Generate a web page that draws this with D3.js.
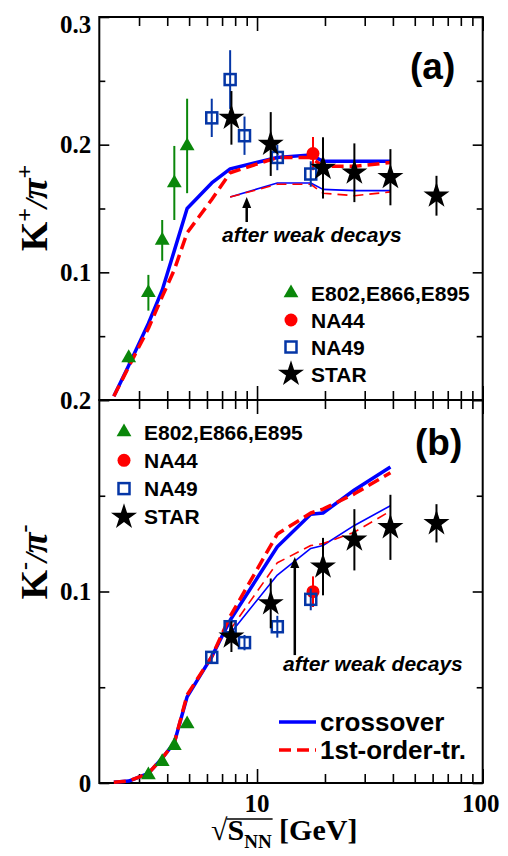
<!DOCTYPE html>
<html>
<head>
<meta charset="UTF-8">
<title>K/pi ratio</title>
<script src="https://cdn.jsdelivr.net/npm/d3@7"></script>
<style>
  body { margin: 0; background: #fff; }
  .serif { font-family: "Liberation Serif", "DejaVu Serif", serif; font-weight: bold; }
  .sans { font-family: "Liberation Sans", Arial, sans-serif; font-weight: bold; }
</style>
</head>
<body>
<svg id="chart" width="508" height="856" xmlns="http://www.w3.org/2000/svg"></svg>
<script>
// ---- data (sqrt(s_NN) in GeV) ----
const agsE = [2.7, 3.3, 3.8, 4.3, 4.9];
const agsKp = [0.033, 0.084, 0.125, 0.170, 0.199];
const agsKpErr = [0.004, 0.014, 0.016, 0.029, 0.037];
const agsKmE = [3.3, 3.8, 4.3, 4.9];
const agsKm = [0.0042, 0.0111, 0.0195, 0.0308];

const na44E = [17.7];
const na44Kp = [0.193];
const na44KpErr = [0.013];
const na44Km = [0.0999];
const na44KmErr = [0.008];

const na49E = [6.3, 7.6, 8.8, 12.3, 17.3];
const na49Kp = [0.221, 0.251, 0.207, 0.190, 0.177];
const na49KpErr = [0.015, 0.023, 0.015, 0.010, 0.010];
const na49Km = [0.0656, 0.0816, 0.0733, 0.0816, 0.0959];
const na49KmErr = [0.003, 0.004, 0.004, 0.0057, 0.0057];

const starE = [7.7, 11.5, 19.6, 27, 39, 62.4];
const starKp = [0.221, 0.2005, 0.1818, 0.178, 0.1745, 0.160];
const starKpErr = [0.021, 0.025, 0.024, 0.023, 0.022, 0.0156];
const starKm = [0.0764, 0.0938, 0.113, 0.127, 0.1335, 0.1356];
const starKmErr = [0.008, 0.013, 0.015, 0.016, 0.017, 0.010];

// model curves
const modelE = [2.32, 2.7, 3.3, 3.8, 4.3, 4.9, 6.3, 7.6, 12.3, 17.3, 19.6, 27, 39];
const crossKp = [0.003, 0.027, 0.060, 0.086, 0.117, 0.150, 0.170, 0.181, 0.190, 0.192, 0.187, 0.187, 0.187];
const firstKp = [0.003, 0.026, 0.056, 0.081, 0.102, 0.131, 0.157, 0.178, 0.190, 0.190, 0.183, 0.183, 0.186];
const crossKm = [0.0004, 0.001, 0.005, 0.013, 0.021, 0.045, 0.066, 0.085, 0.1234, 0.1403, 0.141, 0.153, 0.165];
const firstKm = [0.0004, 0.001, 0.005, 0.013, 0.021, 0.046, 0.066, 0.087, 0.130, 0.141, 0.143, 0.151, 0.162];
// after weak decays
const weakE = [7.6, 12.3, 17.3, 19.6, 27, 39];
const crossKpW = [0.159, 0.170, 0.170, 0.165, 0.164, 0.164];
const firstKpW = [0.159, 0.169, 0.169, 0.162, 0.160, 0.163];
const crossKmW = [0.078, 0.1086, 0.1225, 0.124, 0.1345, 0.1448];
const firstKmW = [0.080, 0.115, 0.124, 0.125, 0.131, 0.142];

const xMinor = [3, 4, 5, 6, 7, 8, 9, 20, 30, 40, 50, 60, 70, 80, 90];
const xMajor = [10, 100];
const yTicksA = [0, 0.1, 0.2, 0.3];
const yTicksB = [0, 0.1, 0.2];
const expLabels = ["E802,E866,E895", "NA44", "NA49", "STAR"];
const modelLabels = ["crossover", "1st-order-tr."];

// ---- layout ----
const left = 99.3, right = 482.7, topA = 17, mid = 400, botB = 783;
const GREEN = "#0a870a", RED = "#ff0000", BLUE = "#0000ff", SQ = "#0536a6";

const svg = d3.select("#chart");
const x = d3.scaleLog().domain([2, 100]).range([left, right]);
const yA = d3.scaleLinear().domain([0, 0.3]).range([mid, topA]);
const yB = d3.scaleLinear().domain([0, 0.2]).range([botB, mid]);

function axes(y, y0, y1, major, minor, labels, topLabelShift) {
    // bottom + top
    svg.append("g").attr("transform", `translate(0,${y0})`)
        .call(d3.axisBottom(x).tickValues(xMinor).tickSize(-9).tickFormat(""));
    svg.append("g").attr("transform", `translate(0,${y0})`)
        .call(d3.axisBottom(x).tickValues(xMajor).tickSize(-14).tickFormat(""));
    svg.append("g").attr("transform", `translate(0,${y1})`)
        .call(d3.axisTop(x).tickValues(xMinor).tickSize(-9).tickFormat(""));
    svg.append("g").attr("transform", `translate(0,${y1})`)
        .call(d3.axisTop(x).tickValues(xMajor).tickSize(-14).tickFormat(""));
    // left + right
    svg.append("g").attr("transform", `translate(${left},0)`)
        .call(d3.axisLeft(y).tickValues(minor).tickSize(-6).tickFormat(""));
    const la = svg.append("g").attr("transform", `translate(${left},0)`)
        .call(d3.axisLeft(y).tickValues(major).tickSize(-10).tickPadding(8)
            .tickFormat(d => labels.includes(d) ? String(d) : ""));
    la.selectAll("text").attr("class", "serif").style("font-size", "25px").attr("fill", "#000")
        .attr("dy", d => (d === d3.max(major) && topLabelShift) ? "0.62em" : "0.32em");
    svg.append("g").attr("transform", `translate(${right},0)`)
        .call(d3.axisRight(y).tickValues(minor).tickSize(-6).tickFormat(""));
    svg.append("g").attr("transform", `translate(${right},0)`)
        .call(d3.axisRight(y).tickValues(major).tickSize(-10).tickFormat(""));
    svg.selectAll(".domain").remove();
    svg.selectAll(".tick line").attr("stroke", "#000").attr("stroke-width", 1.6);
    svg.append("rect").attr("x", left).attr("y", y1).attr("width", right - left).attr("height", y0 - y1)
        .attr("fill", "none").attr("stroke", "#000").attr("stroke-width", 2);
}

axes(yA, mid, topA, yTicksA, [0.05, 0.15, 0.25], [0.1, 0.2, 0.3], true);
axes(yB, botB, mid, yTicksB, [0.05, 0.15], [0, 0.1, 0.2], false);

// x tick labels
svg.append("g").selectAll("text").data(xMajor).join("text")
    .attr("class", "serif").style("font-size", "25px")
    .attr("x", d => x(d) - (d === 100 ? 2 : 0)).attr("y", 812)
    .attr("text-anchor", "middle").text(d => d);

// ---- model lines ----
function curve(y, es, vs, color, width, dash) {
    const line = d3.line().x(d => x(d[0])).y(d => y(d[1]));
    svg.append("path").attr("d", line(es.map((e, i) => [e, vs[i]])))
        .attr("fill", "none").attr("stroke", color).attr("stroke-width", width)
        .attr("stroke-dasharray", dash || null).attr("stroke-linejoin", "round");
}
curve(yA, modelE, crossKp, BLUE, 3.5);
curve(yA, modelE, firstKp, RED, 3.5, "12,6");
curve(yA, weakE, crossKpW, BLUE, 1.6);
curve(yA, weakE, firstKpW, RED, 1.6, "10,6");
curve(yB, modelE, crossKm, BLUE, 3.5);
curve(yB, modelE, firstKm, RED, 3.5, "12,6");
curve(yB, weakE, crossKmW, BLUE, 1.6);
curve(yB, weakE, firstKmW, RED, 1.6, "10,6");

// ---- data points ----
const tri = d3.symbol(d3.symbolTriangle, 95);
const star = d3.symbol(d3.symbolStar, 210);

function errBars(y, es, vs, errs, color) {
    svg.append("g").selectAll("line").data(es).join("line")
        .attr("x1", d => x(d)).attr("x2", d => x(d))
        .attr("y1", (d, i) => y(vs[i] - errs[i])).attr("y2", (d, i) => y(vs[i] + errs[i]))
        .attr("stroke", color).attr("stroke-width", 2);
}
function triangles(g, px, py) {
    g.append("path").attr("d", tri).attr("transform", `translate(${px},${py})`).attr("fill", GREEN);
}
function circleM(g, px, py) {
    g.append("circle").attr("cx", px).attr("cy", py).attr("r", 6.5).attr("fill", RED);
}
function square(g, px, py) {
    g.append("rect").attr("x", px - 5.5).attr("y", py - 5.5).attr("width", 11).attr("height", 11)
        .attr("fill", "none").attr("stroke", SQ).attr("stroke-width", 2.5);
}
function starM(g, px, py) {
    g.append("path").attr("d", star).attr("transform", `translate(${px},${py})`).attr("fill", "#000");
}

function points(y, es, vs, errs, color, mark) {
    if (errs) errBars(y, es, vs, errs, color);
    const g = svg.append("g");
    es.forEach((e, i) => mark(g, x(e), y(vs[i])));
}

// panel a
points(yA, agsE, agsKp, agsKpErr, GREEN, triangles);
points(yA, na44E, na44Kp, na44KpErr, RED, circleM);
points(yA, na49E, na49Kp, null, SQ, square);
errBars(yA, na49E, na49Kp, na49KpErr, SQ);
points(yA, starE, starKp, starKpErr, "#000", starM);
// panel b
points(yB, agsKmE, agsKm, null, GREEN, triangles);
points(yB, na44E, na44Km, na44KmErr, RED, circleM);
points(yB, na49E, na49Km, null, SQ, square);
errBars(yB, na49E, na49Km, na49KmErr, SQ);
points(yB, starE, starKm, starKmErr, "#000", starM);

// ---- arrows & annotations ----
function arrow(y, e, v0, v1) {
    const px = x(e), ya = y(v0), yt = y(v1);
    svg.append("line").attr("x1", px).attr("x2", px).attr("y1", ya).attr("y2", yt + 8)
        .attr("stroke", "#000").attr("stroke-width", 2.5);
    svg.append("path").attr("d", `M${px},${yt} L${px - 4.5},${yt + 11} L${px + 4.5},${yt + 11} Z`).attr("fill", "#000");
}
arrow(yA, 9.0, 0.1394, 0.159);
arrow(yB, 14.7, 0.0668, 0.118);

svg.append("text").attr("class", "sans").style("font-size", "21px").style("font-style", "italic")
    .attr("x", 222).attr("y", 242).text("after weak decays");
svg.append("text").attr("class", "sans").style("font-size", "21px").style("font-style", "italic")
    .attr("x", 283).attr("y", 671).text("after weak decays");

svg.append("text").attr("class", "sans").style("font-size", "37px").attr("x", 410).attr("y", 79).text("(a)");
svg.append("text").attr("class", "sans").style("font-size", "37px").attr("x", 415).attr("y", 455).text("(b)");

// ---- legends ----
const markers = [triangles, circleM, square, starM];
function legend(lx, ly, dy) {
    const g = svg.append("g");
    expLabels.forEach((t, i) => {
        markers[i](g, lx, ly + i * dy);
        g.append("text").attr("class", "sans").style("font-size", "21px")
            .attr("x", lx + 20).attr("y", ly + i * dy + 7.5).text(t);
    });
}
legend(291, 293, 27);
legend(124, 432, 28.3);

modelLabels.forEach((t, i) => {
    const ly = 722 + i * 28;
    svg.append("line").attr("x1", 279).attr("x2", 316).attr("y1", ly).attr("y2", ly)
        .attr("stroke", i ? RED : BLUE).attr("stroke-width", 3.5)
        .attr("stroke-dasharray", i ? "12,6" : null);
    svg.append("text").attr("class", "sans").style("font-size", "26px")
        .attr("x", 320).attr("y", ly + 9).text(t);
});

// ---- axis titles ----
function yTitle(cy, sign) {
    const t = svg.append("text").attr("class", "serif").style("font-size", "38px")
        .attr("text-anchor", "middle")
        .attr("transform", `translate(47,${cy}) rotate(-90)`);
    t.append("tspan").text("K");
    t.append("tspan").attr("dy", -15).style("font-size", "24px").text(sign);
    t.append("tspan").attr("dy", 15).style("font-size", "32px").style("font-style", "italic").text("/");
    t.append("tspan").style("font-style", "italic").text("π");
    t.append("tspan").attr("dy", -15).style("font-size", "24px").text(sign);
}
yTitle(208, "+");
yTitle(562, "-");

const xt = svg.append("text").attr("class", "serif").style("font-size", "30px")
    .attr("x", 211).attr("y", 840);
xt.append("tspan").style("font-weight", "normal").text("√");
xt.append("tspan").text("S");
xt.append("tspan").attr("dy", 8).style("font-size", "19px").text("NN");
xt.append("tspan").attr("dy", -8).text(" [GeV]");
const n = xt.node();
const ox0 = n.getEndPositionOfChar(0).x - 1, ox1 = n.getEndPositionOfChar(3).x + 1;
svg.append("line").attr("x1", ox0).attr("x2", ox1).attr("y1", 819).attr("y2", 819)
    .attr("stroke", "#000").attr("stroke-width", 1.6);
</script>
</body>
</html>
